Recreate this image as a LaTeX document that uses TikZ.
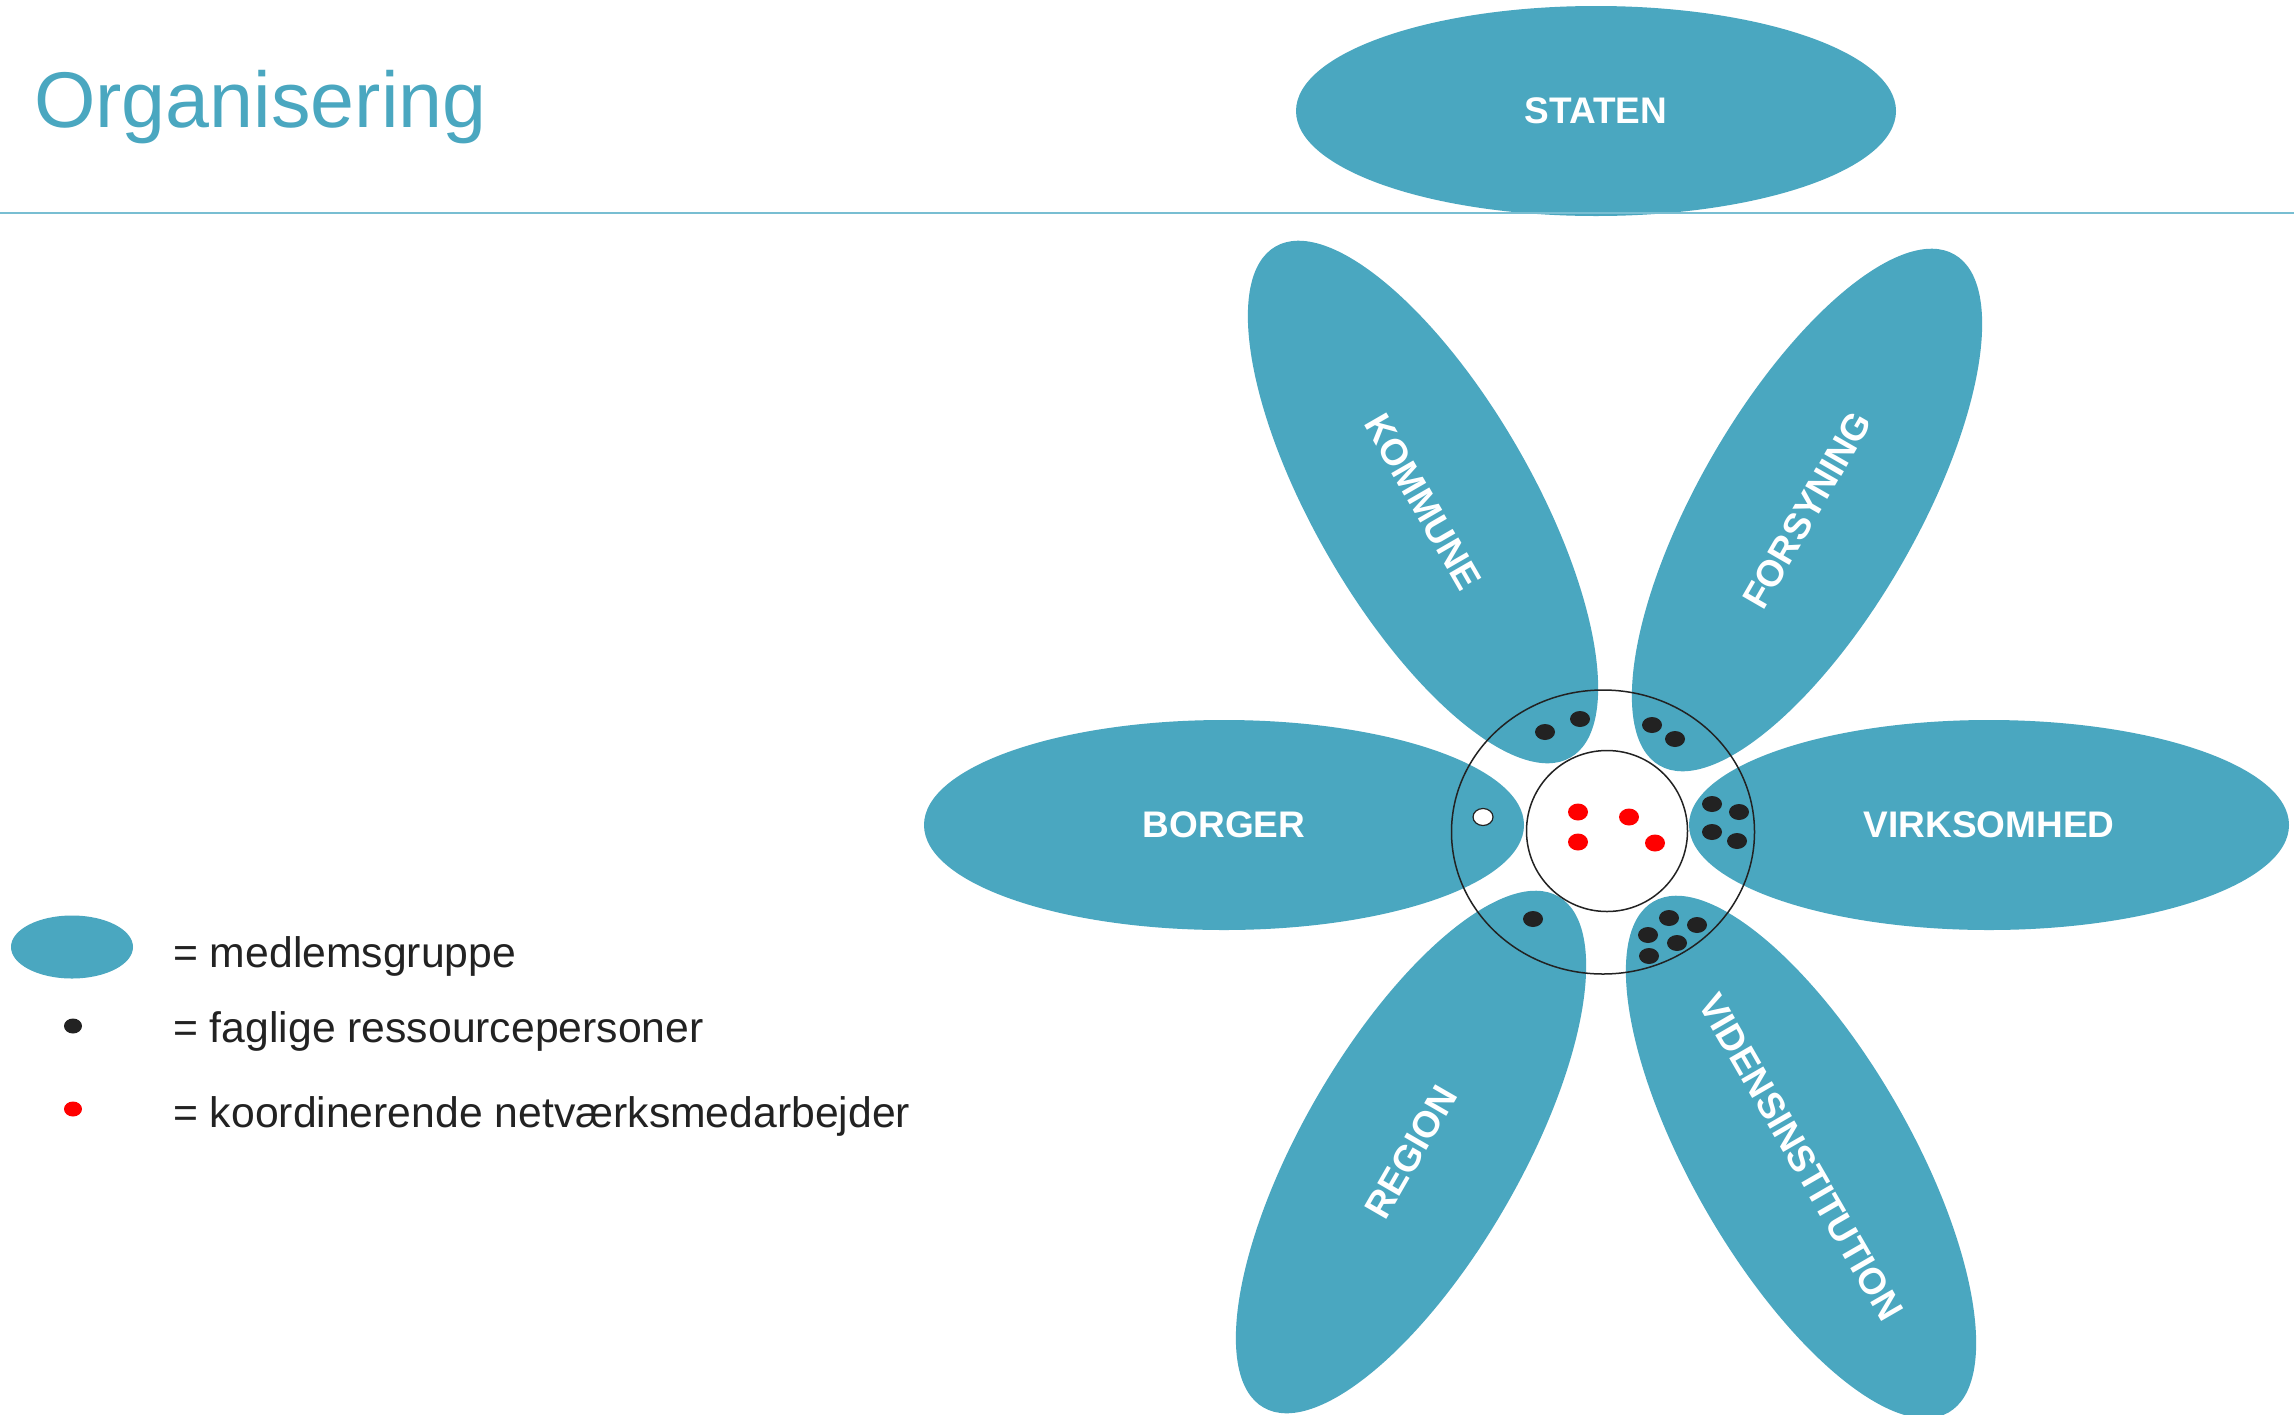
\documentclass[tikz,border=0pt]{standalone}
\usepackage{fontspec}
\setmainfont{Liberation Sans}
\usetikzlibrary{shapes.geometric}
\definecolor{teal1}{RGB}{74,167,192}
\definecolor{rulecol}{RGB}{120,190,210}
\definecolor{dotblack}{RGB}{34,34,34}
\tikzset{
  petal/.style={ellipse, fill=teal1, draw=none, minimum width=600pt, minimum height=210pt,
    inner sep=0pt, text=white, font=\fontsize{37}{40}\selectfont\bfseries},
  slantpetal/.style={petal, minimum width=590pt, minimum height=218pt},
  blackdot/.style={ellipse, fill=dotblack, draw=none, minimum width=20pt, minimum height=16pt, inner sep=0pt},
  reddot/.style={ellipse, fill=red, draw=none, minimum width=20pt, minimum height=17pt, inner sep=0pt},
  whitedot/.style={ellipse, fill=white, draw=dotblack, line width=1.2pt, minimum width=20pt, minimum height=17pt, inner sep=0pt},
  legtext/.style={anchor=base west, inner sep=0pt, text=dotblack, font=\fontsize{42.7}{48}\selectfont},
  ring/.style={draw=dotblack, line width=1.5pt, inner sep=0pt}
}
\begin{document}
\begin{tikzpicture}[x=1pt,y=-1pt]
\useasboundingbox (0,0) rectangle (2294,1414);
\fill[white] (0,0) rectangle (2294,1414);
% title
\node[anchor=base west, inner sep=0pt, text=teal1, font=\fontsize{79}{90}\selectfont] (title) at (34,127) {Organisering};
% staten
\node[petal] (staten) at (1596,111) {STATEN};
\coordinate (ruleL) at (0,213);
\coordinate (ruleR) at (2294,213);
\draw[rulecol, line width=2pt] (ruleL) -- (ruleR);
% petals
\node[petal] (borger) at (1224,825) {BORGER};
\node[petal] (virksomhed) at (1989,825) {VIRKSOMHED};
\node[slantpetal, rotate=-60] (kommune) at (1423,502) {KOMMUNE};
\node[slantpetal, rotate=60] (forsyning) at (1807,510) {FORSYNING};
\node[slantpetal, rotate=60] (region) at (1411,1152) {REGION};
\node[slantpetal, rotate=-60] (videns) at (1801,1157) {VIDENSINSTITUTION};
% rings
\node[ring, ellipse, minimum width=303pt, minimum height=284pt] (outer) at (1603,832) {};
\node[ring, circle, fill=white, minimum size=161pt] (inner) at (1607,831) {};
% dots: kommune
\node[blackdot] (k1) at (1545,732) {};
\node[blackdot] (k2) at (1580,719) {};
% forsyning
\node[blackdot] (f1) at (1652,725) {};
\node[blackdot] (f2) at (1675,739) {};
% virksomhed
\node[blackdot] (v1) at (1712,804) {};
\node[blackdot] (v2) at (1739,812) {};
\node[blackdot] (v3) at (1712,832) {};
\node[blackdot] (v4) at (1737,841) {};
% region
\node[blackdot] (r1) at (1533,919) {};
% videnskabsinstitution
\node[blackdot] (w1) at (1669,918) {};
\node[blackdot] (w2) at (1697,925) {};
\node[blackdot] (w3) at (1648,935) {};
\node[blackdot] (w4) at (1677,943) {};
\node[blackdot] (w5) at (1649,956) {};
% borger
\node[whitedot] (b1) at (1483,817) {};
% red
\node[reddot] (c1) at (1578,812) {};
\node[reddot] (c2) at (1629,817) {};
\node[reddot] (c3) at (1578,842) {};
\node[reddot] (c4) at (1655,843) {};
% legend
\node[ellipse, fill=teal1, draw=none, minimum width=122pt, minimum height=63pt, inner sep=0pt] (legM) at (72,947) {};
\node[blackdot, minimum width=18pt, minimum height=15pt] (legF) at (73,1026) {};
\node[reddot, minimum width=18pt, minimum height=15pt] (legK) at (73,1109) {};
\node[legtext] (legMt) at (173,967) {= medlemsgruppe};
\node[legtext] (legFt) at (173,1042) {= faglige ressourcepersoner};
\node[legtext] (legKt) at (173,1127) {= koordinerende netværksmedarbejder};
\end{tikzpicture}
\end{document}
